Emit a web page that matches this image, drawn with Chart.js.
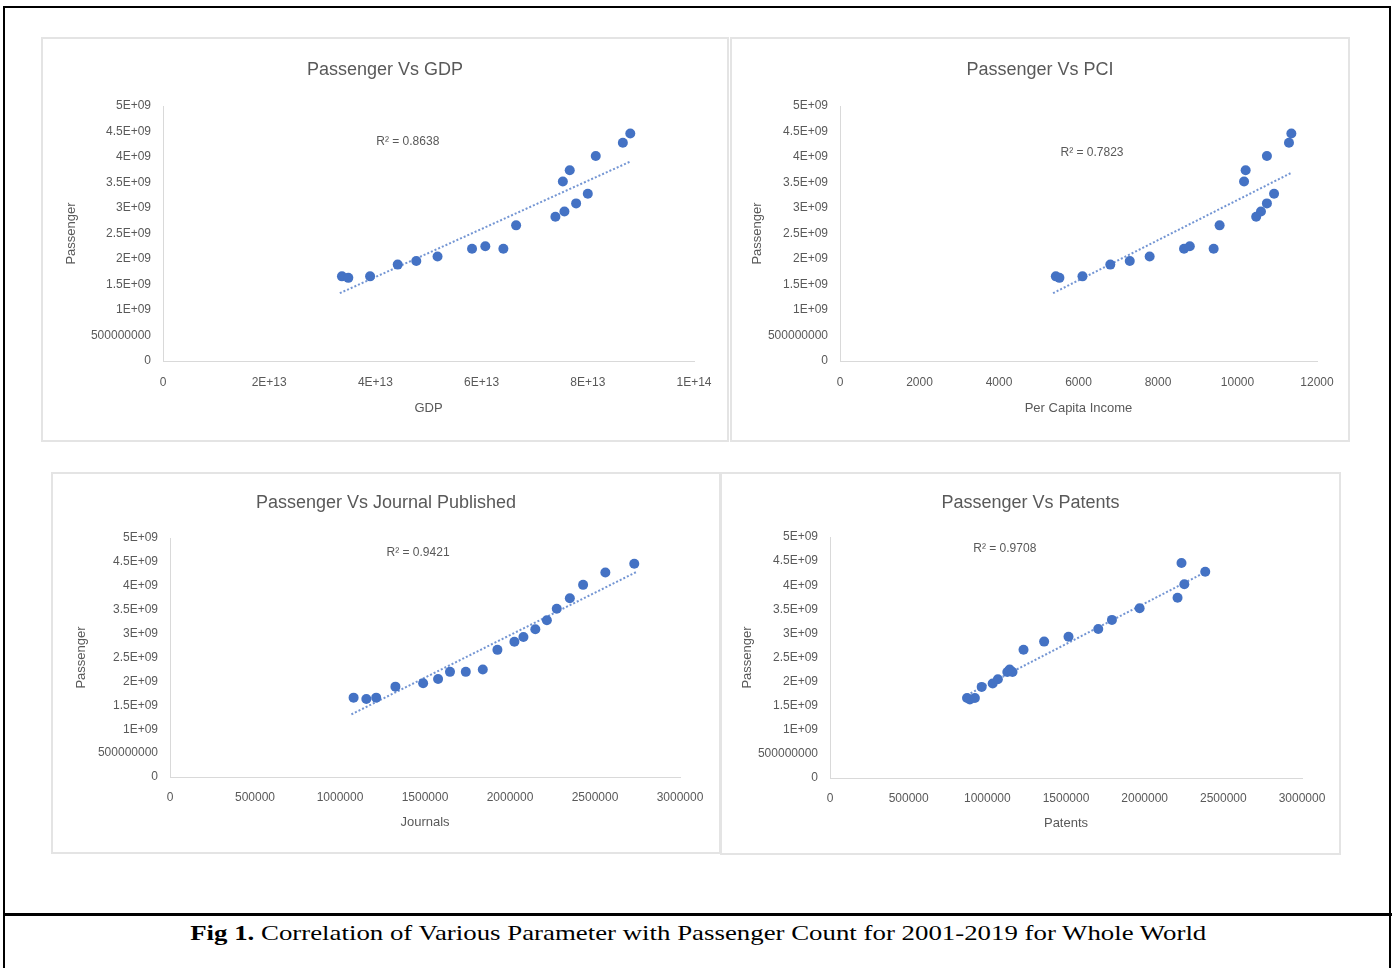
<!DOCTYPE html>
<html><head><meta charset="utf-8">
<script src="https://cdn.jsdelivr.net/npm/chart.js@4.4.1/dist/chart.umd.min.js"></script>
<style>
html,body{margin:0;padding:0;background:#fff;}
body{width:1396px;height:968px;position:relative;overflow:hidden;}
.frame{position:absolute;left:3px;top:6px;width:1384px;height:980px;border:2px solid #000;border-bottom:none;}
.sep{position:absolute;left:3px;top:913px;width:1389px;height:3px;background:#000;}
.panel{position:absolute;box-shadow:inset 0 0 0 2px #e4e4e4;}
.panel canvas{position:absolute;left:0;top:0;}
.caption{position:absolute;left:0;top:918px;width:1396px;text-align:center;font-family:'Liberation Serif','Times New Roman',serif;font-size:22px;line-height:30px;color:#000;white-space:nowrap;transform:scaleX(1.22);transform-origin:697px 50%;}
</style></head>
<body>
<div class="frame"></div>
<div class="panel" style="left:41px;top:37px;width:688px;height:405px;"><canvas id="c1" width="688" height="405"></canvas></div>
<div class="panel" style="left:730px;top:37px;width:620px;height:405px;"><canvas id="c2" width="620" height="405"></canvas></div>
<div class="panel" style="left:51px;top:472px;width:670px;height:382px;"><canvas id="c3" width="670" height="382"></canvas></div>
<div class="panel" style="left:720px;top:472px;width:621px;height:383px;"><canvas id="c4" width="621" height="383"></canvas></div>
<div class="sep"></div>
<div class="caption"><b>Fig 1.</b> Correlation of Various Parameter with Passenger Count for 2001-2019 for Whole World</div>
<script>
// ---- data (2001-2019) ----
const years = [2001,2002,2003,2004,2005,2006,2007,2008,2009,2010,2011,2012,2013,2014,2015,2016,2017,2018,2019];
const passengers = [1.66e9,1.63e9,1.66e9,1.89e9,1.96e9,2.05e9,2.20e9,2.25e9,2.20e9,2.66e9,2.83e9,2.93e9,3.09e9,3.28e9,3.52e9,3.74e9,4.02e9,4.28e9,4.46e9];
const gdp = [3.37e13,3.49e13,3.90e13,4.42e13,4.77e13,5.17e13,5.82e13,6.07e13,6.41e13,6.65e13,7.39e13,7.56e13,7.78e13,8.00e13,7.53e13,7.66e13,8.15e13,8.66e13,8.80e13];
const pci = [5430,5520,6100,6800,7290,7790,8655,8800,9400,9550,10470,10590,10740,10920,10165,10205,10740,11295,11355];
const journals = [1080000,1155000,1213000,1326000,1489000,1577000,1647000,1840000,1740000,1926000,2026000,2079000,2149000,2217000,2275000,2352000,2430000,2561000,2731000];
const patents = [871000,889000,921000,964000,1034000,1067000,1127000,1142000,1160000,1230000,1361000,1516000,1705000,1792000,1968000,2209000,2252000,2385000,2234000];

// trendline end points
const gdpTrendX = [3.33e13, 8.80e13];      const gdpTrendY = [1.33e9, 3.91e9];
const pciTrendX = [5360, 11355];           const pciTrendY = [1.33e9, 3.69e9];
const journalTrendX = [1067000, 2744000];  const journalTrendY = [1.31e9, 4.29e9];
const patentTrendX = [871000, 2385000];    const patentTrendY = [1.72e9, 4.27e9];

const r2Texts = ['R\u00B2 = 0.8638','R\u00B2 = 0.7823','R\u00B2 = 0.9421','R\u00B2 = 0.9708'];
const r2AnchorX = [4.61e13, 6340, 1459000, 1111000];
const r2AnchorY = [4.31e9, 4.08e9, 4.69e9, 4.76e9];

// tick labels
const yTickLabels = ['0','500000000','1E+09','1.5E+09','2E+09','2.5E+09','3E+09','3.5E+09','4E+09','4.5E+09','5E+09'];
const gdpTickLabels = ['0','2E+13','4E+13','6E+13','8E+13','1E+14'];
const pciTickLabels = ['0','2000','4000','6000','8000','10000','12000'];
const countTickLabels = ['0','500000','1000000','1500000','2000000','2500000','3000000'];

const titles = ['Passenger Vs GDP','Passenger Vs PCI','Passenger Vs Journal Published','Passenger Vs Patents'];
const xTitles = ['GDP','Per Capita Income','Journals','Patents'];
const yTitle = 'Passenger';

Chart.defaults.font.family = "'Liberation Sans', Arial, sans-serif";
const TXT = '#595959';

const textPlugin = {
  id: 'panelText',
  afterDatasetsDraw(chart, args, opts) {
    const ctx = chart.ctx;
    ctx.save();
    ctx.fillStyle = TXT;
    ctx.textAlign = 'center';
    ctx.textBaseline = 'middle';
    // chart title, centred on the whole panel
    ctx.font = "18px 'Liberation Sans', Arial, sans-serif";
    ctx.fillText(opts.title, chart.width / 2, opts.titleY);
    // R squared label
    const px = chart.scales.x.getPixelForValue(opts.r2x);
    const py = chart.scales.y.getPixelForValue(opts.r2y);
    ctx.font = "12px 'Liberation Sans', Arial, sans-serif";
    ctx.fillText(opts.r2, px, py);
    ctx.restore();
  }
};

function makeChart(id, c) {
  const pts = c.xs.map((x, i) => ({x: x, y: passengers[i]}));
  const trend = c.tx.map((x, i) => ({x: x, y: c.ty[i]}));
  new Chart(document.getElementById(id), {
    type: 'scatter',
    data: { datasets: [
      { data: pts, pointRadius: 5, pointHoverRadius: 5, backgroundColor: '#4472C4', borderWidth: 0, pointBorderWidth: 0 },
      { data: trend, showLine: true, pointRadius: 0, borderColor: 'rgba(68,114,196,0.75)', borderWidth: 2, borderDash: [2, 2], fill: false }
    ]},
    options: {
      responsive: false, animation: false, events: [],
      layout: { padding: { left: 0, top: c.top, right: c.padRight, bottom: 0 } },
      plugins: {
        legend: { display: false }, tooltip: { enabled: false }, title: { display: false },
        panelText: { title: c.title, titleY: c.titleY, r2: c.r2, r2x: c.r2x, r2y: c.r2y }
      },
      scales: {
        x: {
          type: 'linear', min: 0, max: c.xmax,
          ticks: { stepSize: c.xstep, autoSkip: false, maxRotation: 0, padding: c.xTickPad, color: TXT, font: { size: 12 },
                   callback: (v, i) => c.xlabels[i] },
          grid: { display: false, drawTicks: false },
          border: { display: true, color: '#d9d9d9', width: 1 },
          title: { display: true, text: c.xtitle, color: TXT, font: { size: 13 }, padding: { top: 0, bottom: c.xTitlePad } },
          afterFit: s => { s.height = c.xh; }
        },
        y: {
          type: 'linear', min: 0, max: 5e9,
          ticks: { stepSize: 5e8, autoSkip: false, padding: 12, color: TXT, font: { size: 12 },
                   callback: (v, i) => yTickLabels[i] },
          grid: { display: false, drawTicks: false },
          border: { display: true, color: '#d9d9d9', width: 1 },
          title: { display: true, text: yTitle, color: TXT, font: { size: 13 }, padding: { top: c.yTitlePad, bottom: 0 } },
          afterFit: s => { s.width = c.yw; }
        }
      }
    },
    plugins: [textPlugin]
  });
}

makeChart('c1', { xs: gdp, tx: gdpTrendX, ty: gdpTrendY, title: titles[0], xtitle: xTitles[0],
  xmax: 1e14, xstep: 2e13, xlabels: gdpTickLabels, r2: r2Texts[0], r2x: r2AnchorX[0], r2y: r2AnchorY[0],
  padRight: 35, top: 69, titleY: 33, yw: 122, xh: 81, xTickPad: 14, xTitlePad: 26, yTitlePad: 23 });
makeChart('c2', { xs: pci, tx: pciTrendX, ty: pciTrendY, title: titles[1], xtitle: xTitles[1],
  xmax: 12000, xstep: 2000, xlabels: pciTickLabels, r2: r2Texts[1], r2x: r2AnchorX[1], r2y: r2AnchorY[1],
  padRight: 33, top: 69, titleY: 33, yw: 110, xh: 81, xTickPad: 14, xTitlePad: 26, yTitlePad: 20 });
makeChart('c3', { xs: journals, tx: journalTrendX, ty: journalTrendY, title: titles[2], xtitle: xTitles[2],
  xmax: 3000000, xstep: 500000, xlabels: countTickLabels, r2: r2Texts[2], r2x: r2AnchorX[2], r2y: r2AnchorY[2],
  padRight: 41, top: 66, titleY: 31, yw: 119, xh: 77, xTickPad: 13, xTitlePad: 24, yTitlePad: 23 });
makeChart('c4', { xs: patents, tx: patentTrendX, ty: patentTrendY, title: titles[3], xtitle: xTitles[3],
  xmax: 3000000, xstep: 500000, xlabels: countTickLabels, r2: r2Texts[3], r2x: r2AnchorX[3], r2y: r2AnchorY[3],
  padRight: 39, top: 65, titleY: 31, yw: 110, xh: 77, xTickPad: 13, xTitlePad: 24, yTitlePad: 20 });
</script>
</body></html>
